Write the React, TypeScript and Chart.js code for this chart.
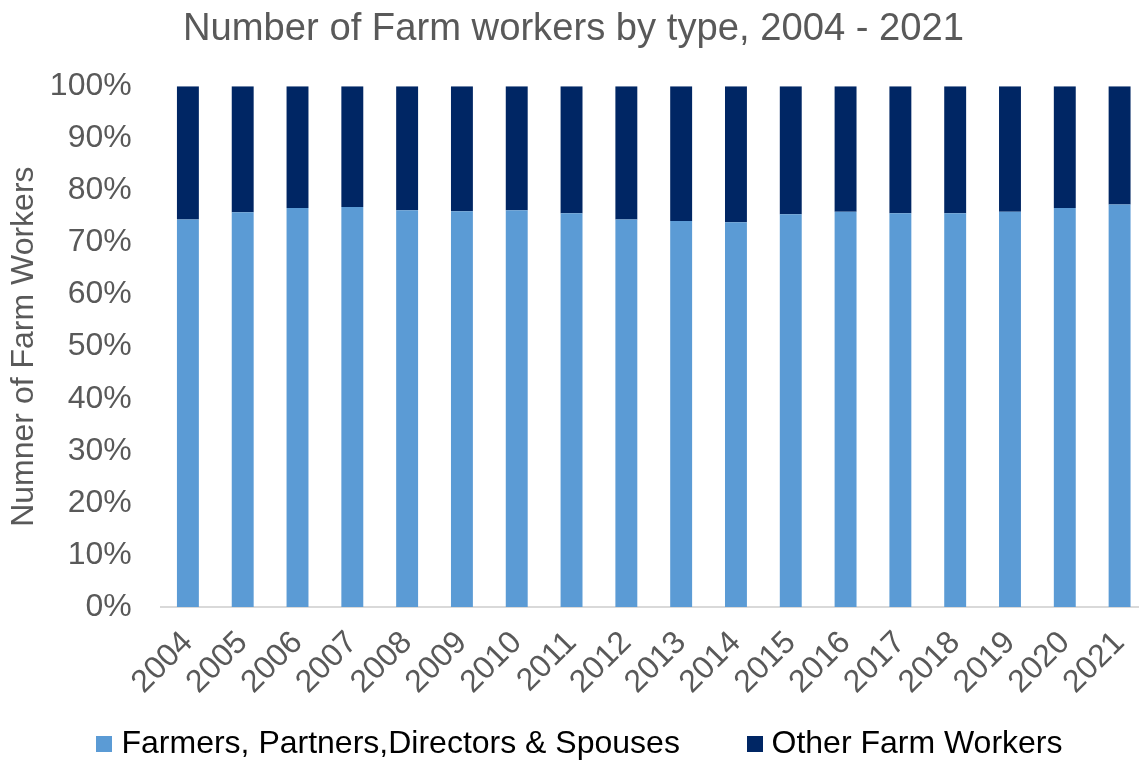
import React, { useEffect, useRef } from "react";
import { Chart, registerables } from "chart.js";

Chart.register(...registerables);

const years = ["2004", "2005", "2006", "2007", "2008", "2009", "2010", "2011", "2012", "2013", "2014", "2015", "2016", "2017", "2018", "2019", "2020", "2021"];
const farmersShare = [74.4, 75.8, 76.6, 76.8, 76.2, 76.0, 76.2, 75.6, 74.4, 74.1, 73.9, 75.4, 75.9, 75.6, 75.6, 75.9, 76.6, 77.3];
const otherShare = [25.6, 24.2, 23.4, 23.2, 23.8, 24.0, 23.8, 24.4, 25.6, 25.9, 26.1, 24.6, 24.1, 24.4, 24.4, 24.1, 23.4, 22.7];
const seriesNames = ["Farmers, Partners,Directors & Spouses", "Other Farm Workers"];
const seriesColors = ["#5B9BD5", "#002664"];
const chartTitle = "Number of Farm workers by type, 2004 - 2021";
const yAxisTitle = "Numner of Farm Workers";

const FONT = "'Liberation Sans', Arial, sans-serif";
const TEXT = "#595959";

function swatch(color: string): HTMLCanvasElement {
  const c = document.createElement("canvas");
  c.width = 16;
  c.height = 16;
  const g = c.getContext("2d") as CanvasRenderingContext2D;
  g.fillStyle = color;
  g.fillRect(0, 0, 16, 16);
  return c;
}

const legendShift = {
  id: "legendShift",
  afterLayout(chart: any) {
    if (chart.legend) chart.legend.left += 19;
  },
};

export default function App() {
  const ref = useRef<HTMLCanvasElement>(null);
  useEffect(() => {
    const swatches = seriesColors.map(swatch);
    const chart = new Chart(ref.current as HTMLCanvasElement, {
      type: "bar",
      data: {
        labels: years,
        datasets: [
          { label: seriesNames[0], data: farmersShare, backgroundColor: seriesColors[0], barPercentage: 0.4, categoryPercentage: 1 },
          { label: seriesNames[1], data: otherShare, backgroundColor: seriesColors[1], barPercentage: 0.4, categoryPercentage: 1 },
        ],
      },
      plugins: [legendShift],
      options: {
        responsive: false,
        animation: false,
        layout: { padding: { left: 0, right: 5, top: 0, bottom: 0 } },
        plugins: {
          title: {
            display: true,
            text: chartTitle,
            color: TEXT,
            font: { family: FONT, size: 38.2, weight: "normal" },
            padding: { top: 7, bottom: 33.4 },
          },
          legend: {
            position: "bottom",
            labels: {
              usePointStyle: true,
              boxWidth: 2,
              boxHeight: 16,
              padding: 11.4,
              color: TEXT,
              font: { family: FONT, size: 32 },
              generateLabels: (ch: any) =>
                ch.data.datasets.map((ds: any, i: number) => ({
                  text: ds.label + (i === 0 ? "       " : ""),
                  fillStyle: ds.backgroundColor,
                  strokeStyle: ds.backgroundColor,
                  lineWidth: 0,
                  pointStyle: swatches[i],
                  hidden: false,
                  datasetIndex: i,
                })),
            },
          },
          tooltip: { enabled: false },
        },
        scales: {
          x: {
            stacked: true,
            grid: { display: false, drawTicks: false, tickLength: 0 },
            border: { display: true, color: "#D9D9D9", width: 2 },
            ticks: {
              autoSkip: false,
              maxRotation: 45,
              minRotation: 45,
              padding: 17,
              color: TEXT,
              font: { family: FONT, size: 32 },
            },
            afterFit: (s: any) => {
              s.height = 109.6;
              s.paddingLeft = 0;
              s.paddingRight = 0;
            },
          },
          y: {
            stacked: true,
            min: 0,
            max: 100,
            grid: { display: false, drawTicks: false, tickLength: 0 },
            border: { display: false },
            ticks: {
              stepSize: 10,
              padding: 28.8,
              color: TEXT,
              font: { family: FONT, size: 32 },
              callback: (v: any) => v + "%",
            },
            title: {
              display: true,
              text: yAxisTitle,
              color: TEXT,
              font: { family: FONT, size: 32 },
              padding: { top: 5.1, bottom: 0 },
            },
            afterFit: (s: any) => {
              s.width = 160.5;
              s.paddingTop = 0;
              s.paddingBottom = 0;
            },
          },
        },
      },
    });
    return () => chart.destroy();
  }, []);
  return (
    <div style={{ position: "fixed", left: 0, top: 0, width: 1139, height: 760, overflow: "hidden", background: "#fff" }}>
      <canvas ref={ref} width={1152} height={770} style={{ display: "block" }} />
    </div>
  );
}
